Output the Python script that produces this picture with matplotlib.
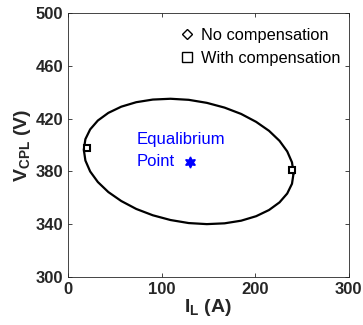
import numpy as np
import matplotlib.pyplot as plt

plt.rcParams['font.family'] = ['Liberation Sans', 'DejaVu Sans']
plt.rcParams['mathtext.fontset'] = 'custom'
plt.rcParams['mathtext.rm'] = 'Liberation Sans:bold'
plt.rcParams['mathtext.bf'] = 'Liberation Sans:bold'
plt.rcParams['mathtext.it'] = 'Liberation Sans:bold'

# limit cycle trajectory (I_L in A, V_CPL in V)
cycle_i = [241, 239.3, 234.2, 226.0, 214.8, 201.0, 185.0, 167.3, 148.4, 129, 109.6, 90.7,
           73.0, 57.0, 43.2, 32.0, 23.8, 18.7, 17, 18.7, 23.8, 32.0, 43.2, 57.0,
           73.0, 90.7, 109.6, 129, 148.4, 167.3, 185.0, 201.0, 214.8, 226.0, 234.2, 239.3]
cycle_v = [378.6, 370.6, 363.2, 356.5, 350.7, 346.0, 342.6, 340.6, 340.0, 340.8, 343.1, 346.7,
           351.5, 357.5, 364.3, 371.9, 379.9, 388.2, 396.4, 404.4, 411.8, 418.5, 424.3, 429.0,
           432.4, 434.4, 435.0, 434.2, 431.9, 428.3, 423.5, 417.5, 410.7, 403.1, 395.1, 386.8]

# compensation end points
comp_i = [20, 239]
comp_v = [397.5, 381]

# equilibrium point
eq_i = [130]
eq_v = [387]

dark = '#262626'

fig = plt.figure(figsize=(3.63, 3.25), dpi=100)
ax = fig.add_axes([0.187, 0.148, 0.774, 0.812])

ax.plot(cycle_i + cycle_i[:1], cycle_v + cycle_v[:1], color='black', lw=1.6)
ax.plot(comp_i, comp_v, ls='none', marker='s', ms=5, mfc='white', mec='black', mew=1.5)
ax.plot(eq_i, eq_v, ls='none', marker=(6, 1, 0), ms=8, color='blue')
ax.text(73, 404, 'Equalibrium', color='blue', fontsize=12, va='center')
ax.text(73, 387.5, 'Point', color='blue', fontsize=12, va='center')

# legend entries (markers only)
ax.plot([], [], ls='none', marker='D', ms=5.5, mfc='white', mec='black', label='No compensation')
ax.plot([], [], ls='none', marker='s', ms=7, mfc='white', mec='black', label='With compensation')
ax.legend(loc='upper right', bbox_to_anchor=(1.0, 0.975), frameon=False, fontsize=11.8,
          handlelength=0.6, handletextpad=0.55, borderaxespad=0.1, labelspacing=0.5,
          borderpad=0.4)

ax.set_xlim(0, 300)
ax.set_ylim(300, 500)
ax.set_xticks([0, 100, 200, 300])
ax.set_yticks([300, 340, 380, 420, 460, 500])
ax.tick_params(direction='in', top=True, right=True, length=3, colors=dark,
               labelsize=12, width=0.6)
for lab in ax.get_xticklabels() + ax.get_yticklabels():
    lab.set_fontweight('bold')
for s in ax.spines.values():
    s.set_color(dark)
    s.set_linewidth(0.6)

ax.set_xlabel(r'$\mathbf{I_L}$ (A)', fontsize=14, fontweight='bold', color=dark, labelpad=0)
ax.set_ylabel(r'$\mathbf{V_{CPL}}$ (V)', fontsize=14, fontweight='bold', color=dark, labelpad=2)

fig.savefig('out.png', dpi=100)
